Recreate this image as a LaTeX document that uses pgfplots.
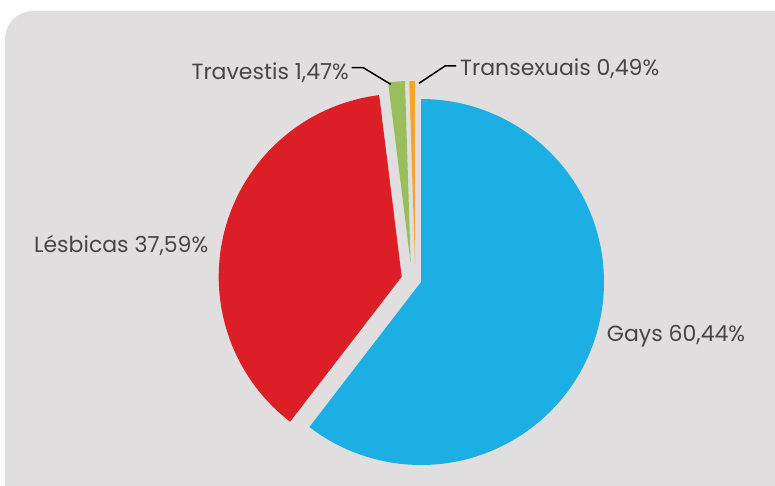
\documentclass[border=0pt]{standalone}
\usepackage{pgfplots}
\pgfplotsset{compat=1.18}
\usepackage{fontspec}
\setmainfont{Poppins}
\definecolor{bgc}{HTML}{E0DEDF}
\definecolor{cBlue}{HTML}{1CAFE4}
\definecolor{cRed}{HTML}{DC1F26}
\definecolor{cGreen}{HTML}{9BBE5C}
\definecolor{cOrange}{HTML}{F7A428}
\definecolor{txt}{HTML}{464646}
% data (percent)
\def\vGays{60.44}
\def\vLes{37.59}
\def\vTra{1.47}
\def\vTrx{0.49}
\pgfmathsetmacro{\aA}{90}
\pgfmathsetmacro{\aB}{90-3.6*\vGays}
\pgfmathsetmacro{\aC}{\aB-3.6*\vLes}
\pgfmathsetmacro{\aD}{\aC-3.6*\vTra}
\pgfmathsetmacro{\aE}{\aD-3.6*\vTrx}
\def\cx{421}
\def\cy{203}
\def\R{183}
\begin{document}
\begin{tikzpicture}
\fill[white] (0,0) rectangle (775pt,485pt);
\fill[bgc, rounded corners=28pt] (5pt,-40pt) rectangle (800pt,474pt);
\begin{axis}[
  width=775pt, height=485pt, scale only axis,
  xmin=0, xmax=775, ymin=0, ymax=485,
  hide axis, clip=false,
]
% Gays
\addplot[fill=cBlue, draw=none, domain=\aB:\aA, samples=150, variable=\t]
  ({\cx+\R*cos(t)}, {\cy+\R*sin(t)}) -- (axis cs:\cx,\cy) -- cycle;
% Lesbicas (exploded)
\addplot[fill=cRed, draw=none, domain=\aC:\aB, samples=120, variable=\t, shift={(axis direction cs:-19.3,5.3)}]
  ({\cx+\R*cos(t)}, {\cy+\R*sin(t)}) -- (axis cs:\cx,\cy) -- cycle;
% Travestis
\addplot[fill=cGreen, draw=none, domain=\aD:\aC, samples=10, variable=\t, shift={(axis direction cs:-10.3,18)}]
  ({\cx+\R*cos(t)}, {\cy+\R*sin(t)}) -- (axis cs:\cx,\cy) -- cycle;
% Transexuais
\addplot[fill=cOrange, draw=none, domain=\aE:\aD, samples=6, variable=\t, shift={(axis direction cs:-6,18)}]
  ({\cx+\R*cos(t)}, {\cy+\R*sin(t)}) -- (axis cs:\cx,\cy) -- cycle;
% leader lines
\addplot[black, line width=1.5pt] coordinates {(351.7,417.3) (363.3,417.3) (390.7,400.7)};
\addplot[black, line width=1.5pt] coordinates {(419,401.7) (445,419) (456,419)};
% labels
\node[anchor=base east, text=txt, font=\fontsize{22}{25}\selectfont, inner sep=0pt] at (axis cs:349,405.7) {Travestis 1,47\%};
\node[anchor=base west, text=txt, font=\fontsize{22}{25}\selectfont, inner sep=0pt] at (axis cs:460,409.5) {Transexuais 0,49\%};
\node[anchor=base east, text=txt, font=\fontsize{22}{25}\selectfont, inner sep=0pt] at (axis cs:208.5,232.7) {Lésbicas 37,59\%};
\node[anchor=base west, text=txt, font=\fontsize{22}{25}\selectfont, inner sep=0pt] at (axis cs:606.7,143.3) {Gays 60,44\%};
\end{axis}
\pgfresetboundingbox
\useasboundingbox (0,0) rectangle (775pt,485pt);
\end{tikzpicture}
\end{document}
